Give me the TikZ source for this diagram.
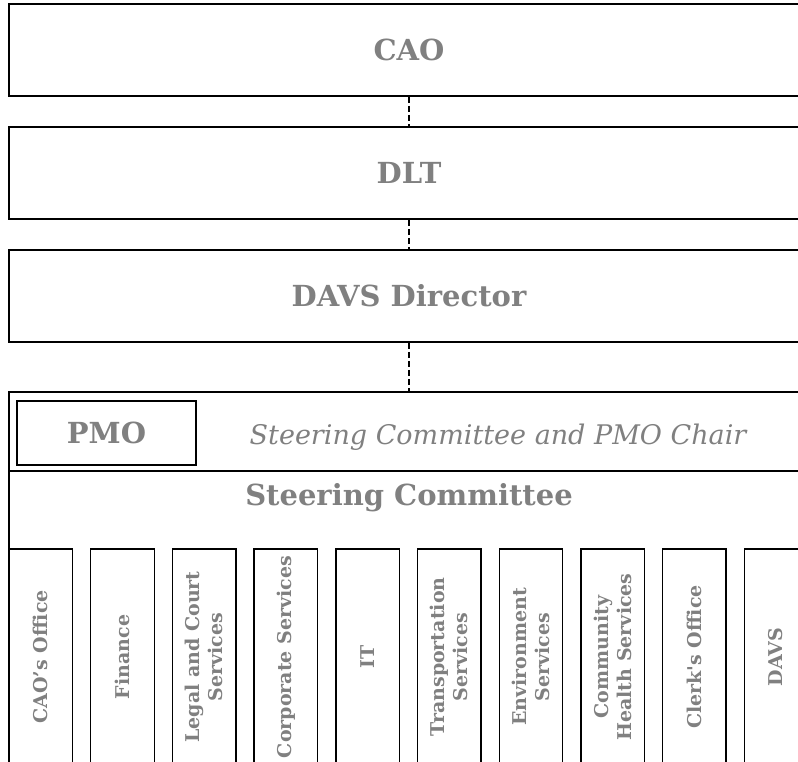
\documentclass[tikz,border=0pt]{standalone}
\usepackage{fontspec}
\setmainfont{DejaVu Serif}
\definecolor{labelgray}{HTML}{808080}

\begin{document}
\begin{tikzpicture}[x=1pt,y=-1pt,
  box/.style={draw,line width=1.8pt,minimum width=800pt,inner sep=0pt,text=labelgray,font=\bfseries\fontsize{29}{34}\selectfont},
  unit/.style={draw,line width=1.4pt,rotate=90,minimum width=216pt,minimum height=63.5pt,inner sep=0pt,align=center,text=labelgray,font=\bfseries\fontsize{19}{23}\selectfont},
  link/.style={line width=1.3pt,dash pattern=on 6pt off 3pt}]
\useasboundingbox (0,0) rectangle (798,761);
\clip (0,0) rectangle (798,761);

% top of the chain
\node[box,minimum height=92pt] (cao) at (409,50) {CAO};
\node[box,minimum height=92pt] (dlt) at (409,173) {DLT};
\node[box,minimum height=92pt] (dir) at (409,296) {DAVS Director};

% steering committee block
\node[box,minimum height=79pt] (chair) at (409,431.5) {};
\node[box,minimum height=304pt] (comm) at (409,623) {};
\node[draw,line width=1.4pt,minimum width=179pt,minimum height=64pt,inner sep=0pt,text=labelgray,font=\bfseries\fontsize{29}{34}\selectfont] (pmo) at (106.5,433) {PMO};
\node[anchor=base,text=labelgray,font=\itshape\fontsize{27}{32}\selectfont] (chairtxt) at (498,444) {Steering Committee and PMO Chair};
\node[anchor=base,text=labelgray,font=\bfseries\fontsize{29}{34}\selectfont] (commtxt) at (409,505) {Steering Committee};

\draw[link] (cao) -- (dlt);
\draw[link] (dlt) -- (dir);
\draw[link] (dir) -- (chair);

% departments
\foreach \i/\name/\txt in {0/caooff/CAO's Office, 1/fin/Finance, 2/legal/Legal and Court\\Services,
  3/corp/Corporate Services, 4/it/IT, 5/trans/Transportation\\Services, 6/env/Environment\\Services,
  7/health/Community\\Health Services, 8/clerk/Clerk\textquotesingle s Office, 9/davs/DAVS}
  \node[unit] (\name) at (40.75+81.7*\i,657) {\txt};
\end{tikzpicture}
\end{document}
